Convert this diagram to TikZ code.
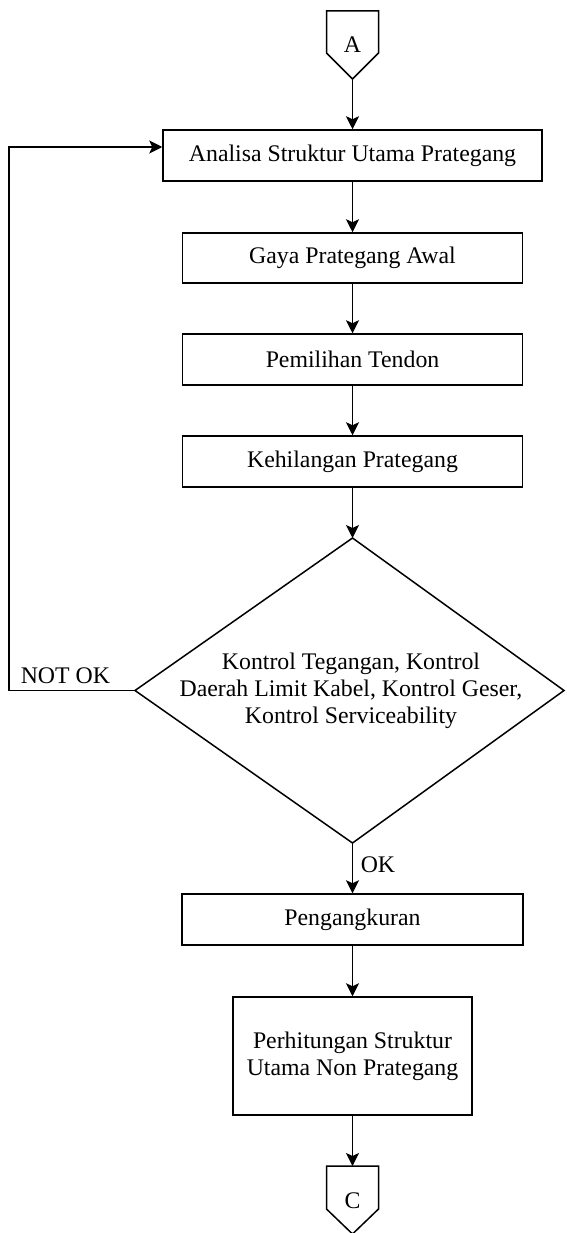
\documentclass[tikz,border=0pt]{standalone}
\usepackage{fontspec}
\setmainfont{Liberation Serif}
\usetikzlibrary{arrows.meta}
\begin{document}
\begin{tikzpicture}[x=1pt,y=-1pt,
  line width=1.5pt,
  every node/.style={font=\fontsize{23.8}{27}\selectfont},
  procbox/.style={draw, rectangle, inner sep=0pt, align=center},
  flow/.style={-{Stealth[length=13pt,width=13pt,inset=3pt]}},
  lbl/.style={inner sep=0pt}
]
\useasboundingbox (0,0) rectangle (566,1233);

% off-page connector A
\coordinate (Atl) at (326.5,11);
\coordinate (Atr) at (378.5,11);
\coordinate (Abr) at (378.5,53);
\coordinate (Atip) at (352.5,79);
\coordinate (Abl) at (326.5,53);
\draw (Atl) -- (Atr) -- (Abr) -- (Atip) -- (Abl) -- cycle;
\node[lbl, anchor=base] (A) at (352.5,53) {A};

% process boxes
\node[procbox, minimum width=379pt, minimum height=51pt] (B1) at (352.5,155.5) {Analisa Struktur Utama Prategang};
\node[procbox, minimum width=340pt, minimum height=50pt] (B2) at (352.5,258) {Gaya Prategang Awal};
\node[procbox, minimum width=340pt, minimum height=51pt] (B3) at (352.5,359.5) {Pemilihan Tendon};
\node[procbox, minimum width=340pt, minimum height=51pt] (B4) at (352.5,461.5) {Kehilangan Prategang};

% decision diamond
\coordinate (Dtop) at (352.5,538);
\coordinate (Dright) at (564,690.5);
\coordinate (Dbot) at (352.5,843);
\coordinate (Dleft) at (135,690.5);
\draw (Dtop) -- (Dright) -- (Dbot) -- (Dleft) -- cycle;
\node[lbl, align=center] (D) at (351,691) {Kontrol Tegangan, Kontrol\\Daerah Limit Kabel, Kontrol Geser,\\Kontrol Serviceability};

\node[procbox, minimum width=341pt, minimum height=51pt] (B5) at (352.5,919.5) {Pengangkuran};
\node[procbox, minimum width=239pt, minimum height=118pt] (B6) at (352.5,1056) {Perhitungan Struktur\\Utama Non Prategang};

% off-page connector C
\coordinate (Ctl) at (326.5,1166);
\coordinate (Ctr) at (378.5,1166);
\coordinate (Cbr) at (378.5,1209);
\coordinate (Ctip) at (352.5,1234);
\coordinate (Cbl) at (326.5,1209);
\draw (Ctl) -- (Ctr) -- (Cbr) -- (Ctip) -- (Cbl) -- cycle;
\coordinate (Ctop) at (352.5,1166);
\node[lbl, anchor=base] (C) at (352.5,1208) {C};

% connectors
\draw[flow] (Atip) -- (B1.north);
\draw[flow] (B1.south) -- (B2.north);
\draw[flow] (B2.south) -- (B3.north);
\draw[flow] (B3.south) -- (B4.north);
\draw[flow] (B4.south) -- (Dtop);
\draw[flow] (Dbot) -- (B5.north);
\draw[flow] (B5.south) -- (B6.north);
\draw[flow] (B6.south) -- (Ctop);
\draw[flow] (Dleft) -- ++(-126,0) |- ([yshift=8.5pt]B1.west);

% labels
\node[lbl, anchor=base west] (notok) at (20,683) {NOT OK};
\node[lbl, anchor=base west] (ok) at (360,872) {OK};
\end{tikzpicture}
\end{document}
